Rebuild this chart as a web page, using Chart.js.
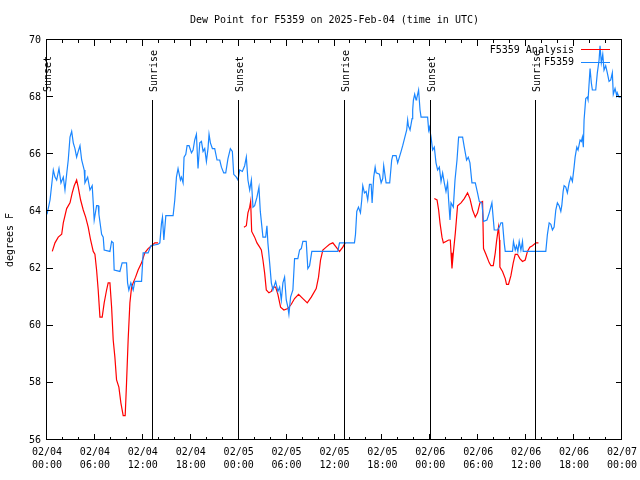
<!DOCTYPE html>
<html>
<head>
<meta charset="utf-8">
<title>Dew Point F5359</title>
<script src="https://cdn.jsdelivr.net/npm/chart.js@4/dist/chart.umd.min.js"></script>
<style>
  body { margin: 0; background: #fff; }
</style>
</head>
<body>
<canvas id="dewChart" width="640" height="480"></canvas>
<script>
// hours after 02/04 00:00 UTC
const xTickLabels = [
  ["02/04", "00:00"], ["02/04", "06:00"], ["02/04", "12:00"], ["02/04", "18:00"],
  ["02/05", "00:00"], ["02/05", "06:00"], ["02/05", "12:00"], ["02/05", "18:00"],
  ["02/06", "00:00"], ["02/06", "06:00"], ["02/06", "12:00"], ["02/06", "18:00"],
  ["02/07", "00:00"],
];

const eventHours = [0, 13.3, 24.03, 37.27, 48.07, 61.2];
const eventNames = ["Sunset", "Sunrise", "Sunset", "Sunrise", "Sunset", "Sunrise"];

// station observations
const obsHours = [
  0, 0.38, 0.79, 1.0, 1.21, 1.5, 1.75, 2.04, 2.25, 2.46,
  2.66, 2.88, 3.09, 3.29, 3.5, 3.71, 3.91, 4.13, 4.34, 4.66,
  4.75, 5.09, 5.38, 5.66, 5.79, 5.91, 6.21, 6.41, 6.5, 6.84,
  7.04, 7.16, 7.88, 8.09, 8.29, 8.41, 9.13, 9.41, 9.96, 10.09,
  10.25, 10.5, 10.79, 11.0, 11.84, 12.04, 12.66, 13.0, 13.91, 14.13,
  14.34, 14.46, 14.63, 14.88, 15.79, 16.0, 16.21, 16.41, 16.71, 16.84,
  17.04, 17.16, 17.38, 17.54, 17.79, 18.09, 18.29, 18.5, 18.71, 18.91,
  19.13, 19.34, 19.54, 19.75, 19.96, 20.16, 20.29, 20.46, 20.71, 21.0,
  21.29, 21.63, 21.84, 22.13, 22.38, 22.66, 22.96, 23.21, 23.38, 23.71,
  23.91, 24.13, 24.46, 24.75, 24.96, 25.16, 25.38, 25.59, 25.79, 26.0,
  26.29, 26.54, 26.71, 27.04, 27.38, 27.54, 27.66, 27.88, 28.09, 28.29,
  28.63, 28.91, 29.13, 29.34, 29.54, 29.75, 29.96, 30.16, 30.29, 30.5,
  30.79, 31.0, 31.41, 31.63, 31.84, 32.04, 32.46, 32.66, 32.88, 33.16,
  36.41, 36.63, 38.5, 38.63, 38.79, 39.0, 39.25, 39.41, 39.54, 39.75,
  39.96, 40.16, 40.38, 40.59, 40.71, 40.91, 41.09, 41.21, 41.63, 41.84,
  42.04, 42.16, 42.46, 42.91, 43.16, 43.29, 43.71, 43.91, 44.34, 44.54,
  44.81, 45.04, 45.16, 45.25, 45.46, 45.71, 45.79, 45.88, 46.04, 46.21,
  46.29, 46.53, 46.71, 46.84, 47.66, 47.79, 47.88, 48.09, 48.29, 48.5,
  48.71, 48.91, 49.13, 49.34, 49.54, 49.75, 49.96, 50.16, 50.29, 50.46,
  50.59, 50.88, 51.09, 51.34, 51.54, 52.04, 52.25, 52.54, 52.75, 52.96,
  53.21, 53.63, 53.91, 54.13, 54.46, 54.66, 55.09, 55.38, 55.71, 56.0,
  56.41, 56.63, 56.84, 57.04, 57.25, 57.38, 58.29, 58.41, 58.63, 58.79,
  58.96, 59.13, 59.34, 59.54, 59.63, 62.46, 62.66, 62.88, 63.09, 63.29,
  63.5, 63.71, 63.91, 64.13, 64.34, 64.46, 64.63, 64.75, 64.96, 65.16,
  65.38, 65.59, 65.79, 66.0, 66.13, 66.34, 66.5, 66.75, 66.91, 67.04,
  67.16, 67.25, 67.46, 67.66, 67.75, 68.0, 68.16, 68.29, 68.71, 68.91,
  69.13, 69.25, 69.41, 69.59, 69.75, 69.96, 70.16, 70.38, 70.59, 70.79,
  70.91, 71.13, 71.34, 71.41, 71.63, 71.84,
];
const obsDewF = [
  63.9, 64.4, 65.45, 65.2, 65.1, 65.5, 65.0, 65.2, 64.75, 65.3,
  65.8, 66.6, 66.8, 66.4, 66.2, 65.9, 66.1, 66.3, 65.8, 65.45,
  65.0, 65.2, 64.75, 64.9, 64.3, 63.7, 64.2, 64.2, 63.9, 63.2,
  63.1, 62.65, 62.6, 62.95, 62.9, 61.95, 61.9, 62.2, 62.2, 61.5,
  61.25, 61.5, 61.25, 61.55, 61.55, 62.55, 62.55, 62.8, 62.85, 62.9,
  63.6, 63.8, 63.0, 63.85, 63.85, 64.4, 65.2, 65.5, 65.1, 65.2,
  65.0, 65.9, 66.0, 66.3, 66.3, 66.05, 66.15, 66.5, 66.7, 65.5,
  66.4, 66.45, 66.1, 66.2, 65.75, 66.2, 66.7, 66.4, 66.2, 66.2,
  65.8, 65.8, 65.55, 65.35, 65.35, 65.85, 66.2, 66.1, 65.3, 65.2,
  65.1, 65.45, 65.4, 65.6, 65.9, 65.1, 64.75, 65.1, 64.15, 64.2,
  64.5, 64.85, 64.0, 63.1, 63.1, 63.5, 62.9, 62.2, 61.5, 61.25,
  61.55, 61.2, 61.35, 60.9, 61.5, 61.7, 60.9, 60.65, 60.4, 61.0,
  61.25, 62.35, 62.35, 62.65, 62.7, 62.95, 62.95, 62.0, 62.1, 62.6,
  62.6, 62.9, 62.9, 63.2, 64.0, 64.15, 63.95, 64.4, 64.9, 64.65,
  64.7, 64.4, 64.95, 64.95, 64.3, 65.2, 65.55, 65.35, 65.3, 65.0,
  65.15, 65.6, 65.0, 65.0, 65.8, 65.95, 65.95, 65.7, 66.1, 66.3,
  66.6, 66.85, 67.2, 67.0, 66.85, 67.25, 67.55, 67.9, 68.1, 67.9,
  67.95, 68.25, 67.55, 67.3, 67.3, 66.85, 66.95, 66.6, 66.15, 66.25,
  65.7, 65.45, 65.55, 65.05, 65.35, 65.0, 64.7, 65.0, 64.4, 63.7,
  64.3, 64.15, 65.1, 65.8, 66.6, 66.6, 66.25, 65.8, 65.9, 65.7,
  65.0, 65.0, 64.65, 64.35, 64.3, 63.65, 63.7, 63.95, 64.3, 63.35,
  63.35, 63.45, 63.6, 63.6, 62.9, 62.6, 62.6, 62.95, 62.65, 62.8,
  62.6, 62.95, 62.65, 62.95, 62.6, 62.6, 63.2, 63.6, 63.55, 63.35,
  63.45, 64.05, 64.3, 64.2, 64.0, 64.2, 64.7, 64.9, 64.85, 64.65,
  65.0, 65.2, 65.05, 65.55, 65.9, 66.25, 66.15, 66.5, 66.45, 66.6,
  66.25, 67.2, 67.95, 68.0, 67.9, 69.0, 68.5, 68.25, 68.25, 68.85,
  69.3, 69.8, 69.2, 69.5, 68.95, 69.1, 68.85, 68.55, 68.6, 68.85,
  68.1, 68.3, 68.05, 68.15, 68.0, 68.0,
];

// analysis, three separate runs
const anaHours1 = [
  0.66, 1.0, 1.41, 1.84, 2.04, 2.46, 2.88, 3.16, 3.41, 3.71,
  3.91, 4.21, 4.54, 4.84, 5.16, 5.46, 5.79, 6.0, 6.21, 6.41,
  6.63, 6.91, 7.16, 7.46, 7.66, 7.88, 8.09, 8.29, 8.5, 8.71,
  9.0, 9.25, 9.54, 9.79, 9.96, 10.16, 10.38, 10.59, 10.79, 11.09,
  11.41, 11.84, 12.25, 12.66, 13.09, 13.5, 13.91,
];
const anaDewF1 = [
  62.6, 62.9, 63.1, 63.2, 63.6, 64.1, 64.3, 64.65, 64.9, 65.1,
  64.85, 64.4, 64.05, 63.8, 63.45, 63.0, 62.6, 62.5, 61.95, 61.25,
  60.3, 60.3, 60.8, 61.25, 61.5, 61.5, 60.65, 59.5, 58.9, 58.1,
  57.85, 57.3, 56.85, 56.85, 58.0, 59.5, 60.8, 61.35, 61.5, 61.7,
  61.95, 62.2, 62.55, 62.7, 62.8, 62.9, 62.9,
];
const anaHours2 = [
  24.66, 24.96, 25.16, 25.38, 25.5, 25.63, 26.0, 26.29, 26.63, 26.84,
  27.04, 27.25, 27.46, 27.79, 28.09, 28.29, 28.63, 28.91, 29.25, 29.66,
  30.16, 30.59, 31.0, 31.5, 32.04, 32.59, 33.09, 33.71, 34.0, 34.25,
  34.54, 34.96, 35.38, 35.79, 36.21, 36.63, 37.04, 37.34,
];
const anaDewF2 = [
  63.45, 63.5, 63.95, 64.15, 64.35, 63.3, 63.1, 62.9, 62.75, 62.65,
  62.3, 61.85, 61.25, 61.15, 61.2, 61.35, 61.35, 61.1, 60.65, 60.55,
  60.6, 60.75, 60.95, 61.1, 60.95, 60.8, 61.0, 61.3, 61.7, 62.3,
  62.65, 62.75, 62.85, 62.9, 62.75, 62.6, 62.75, 62.9,
];
const anaHours3 = [
  48.5, 48.84, 49.04, 49.21, 49.46, 49.63, 49.96, 50.29, 50.5, 50.59,
  50.71, 50.88, 51.13, 51.41, 51.84, 52.25, 52.66, 52.96, 53.29, 53.63,
  53.91, 54.21, 54.54, 54.66, 54.96, 55.38, 55.59, 55.88, 56.13, 56.29,
  56.46, 56.54, 56.66, 56.71, 57.04, 57.38, 57.54, 57.79, 58.09, 58.38,
  58.63, 58.91, 59.21, 59.54, 59.88, 60.16, 60.46, 60.79, 61.21, 61.54,
];
const anaDewF3 = [
  64.45, 64.4, 64.05, 63.6, 63.1, 62.9, 62.95, 63.0, 63.0, 62.55,
  62.0, 62.55, 63.25, 64.2, 64.3, 64.45, 64.65, 64.45, 64.05, 63.8,
  63.95, 64.3, 64.35, 62.7, 62.5, 62.2, 62.1, 62.1, 62.55, 62.95,
  63.3, 63.45, 63.0, 62.05, 61.9, 61.65, 61.45, 61.45, 61.75, 62.2,
  62.5, 62.5, 62.35, 62.25, 62.3, 62.6, 62.75, 62.8, 62.9, 62.9,
];

const MONO = '"DejaVu Sans Mono", "Liberation Mono", monospace';
Chart.defaults.font.family = MONO;
Chart.defaults.font.size = 10;
Chart.defaults.color = "#000";

const zip = (xs, ys) => xs.map((x, i) => ({ x: x, y: ys[i] }));
const gap = (h) => ({ x: h, y: null });

const obsPoints = zip(obsHours, obsDewF);
const anaPoints = [
  ...zip(anaHours1, anaDewF1), gap(19),
  ...zip(anaHours2, anaDewF2), gap(43),
  ...zip(anaHours3, anaDewF3),
];

// gnuplot style frame: box, inward ticks, sun markers, legend
const gnuFrame = {
  id: "gnuFrame",
  afterDatasetsDraw(chart) {
    const { ctx, chartArea: a, scales } = chart;
    const xs = scales.x, ys = scales.y;
    const crisp = (v) => Math.round(v) - 0.5;
    ctx.save();
    ctx.strokeStyle = "#000";
    ctx.fillStyle = "#000";
    ctx.lineWidth = 1;
    ctx.font = "10px " + MONO;

    const line = (x1, y1, x2, y2) => {
      ctx.beginPath();
      ctx.moveTo(x1, y1);
      ctx.lineTo(x2, y2);
      ctx.stroke();
    };

    // sunrise / sunset
    eventHours.forEach((h, i) => {
      const px = crisp(xs.getPixelForValue(h));
      line(px, a.bottom, px, a.top + 60);
      ctx.save();
      ctx.translate(px + 1.5, a.top + 52);
      ctx.rotate(-Math.PI / 2);
      ctx.textAlign = "left";
      ctx.textBaseline = "middle";
      ctx.fillText(eventNames[i], 0, 0);
      ctx.restore();
    });

    // border
    ctx.strokeRect(crisp(a.left), crisp(a.top), a.right - a.left, a.bottom - a.top);

    // x ticks: major every 6h, minor every 2h
    for (let h = xs.min; h <= xs.max; h += 2) {
      const px = crisp(xs.getPixelForValue(h));
      const len = h % 6 === 0 ? 6 : 3;
      line(px, a.bottom, px, a.bottom - len);
      line(px, a.top, px, a.top + len);
    }
    // y ticks
    ys.ticks.forEach((t) => {
      const py = crisp(ys.getPixelForValue(t.value));
      line(a.left, py, a.left + 6, py);
      line(a.right, py, a.right - 6, py);
    });

    // legend, top right inside plot
    chart.data.datasets.forEach((ds, i) => {
      const ty = a.top + 10 + i * 12.5;
      ctx.textAlign = "right";
      ctx.textBaseline = "middle";
      ctx.fillStyle = "#000";
      ctx.fillText(ds.label, a.right - 48, ty);
      ctx.strokeStyle = ds.borderColor;
      line(a.right - 41, crisp(ty), a.right - 12, crisp(ty));
    });
    ctx.restore();
  },
};

new Chart(document.getElementById("dewChart"), {
  type: "line",
  data: {
    datasets: [
      {
        label: "F5359 Analysis",
        data: anaPoints,
        borderColor: "#ff0000",
        borderWidth: 1.2,
        pointRadius: 0,
        spanGaps: false,
        order: 2,
      },
      {
        label: "F5359",
        data: obsPoints,
        borderColor: "#1a86ff",
        borderWidth: 1.2,
        pointRadius: 0,
        order: 1,
      },
    ],
  },
  options: {
    responsive: false,
    animation: false,
    layout: { padding: { top: 0, right: 18, bottom: 0, left: 0 } },
    plugins: {
      legend: { display: false },
      tooltip: { enabled: false },
      title: {
        display: true,
        text: "Dew Point for F5359 on 2025-Feb-04 (time in UTC)",
        fullSize: false,
        color: "#000",
        font: { size: 10, weight: "normal", lineHeight: 1.2 },
        padding: { top: 14, bottom: 14 },
      },
    },
    scales: {
      x: {
        type: "linear",
        min: 0,
        max: 72,
        afterFit: (s) => {
          s.height = 40;
          s.paddingLeft = 0;
          s.paddingRight = 0;
        },
        grid: { display: false, drawTicks: false },
        border: { display: false },
        ticks: {
          stepSize: 6,
          autoSkip: false,
          maxRotation: 0,
          padding: 6,
          font: { size: 10, lineHeight: 1.3 },
          callback: (v) => xTickLabels[Math.round(v / 6)],
        },
      },
      y: {
        min: 56,
        max: 70,
        afterFit: (s) => { s.width = 47; },
        grid: { display: false, drawTicks: false },
        border: { display: false },
        ticks: { stepSize: 2, padding: 6 },
        title: {
          display: true,
          text: "degrees F",
          font: { size: 10, lineHeight: 1.2 },
          padding: { top: 4, bottom: 0 },
        },
      },
    },
  },
  plugins: [gnuFrame],
});
</script>
</body>
</html>
